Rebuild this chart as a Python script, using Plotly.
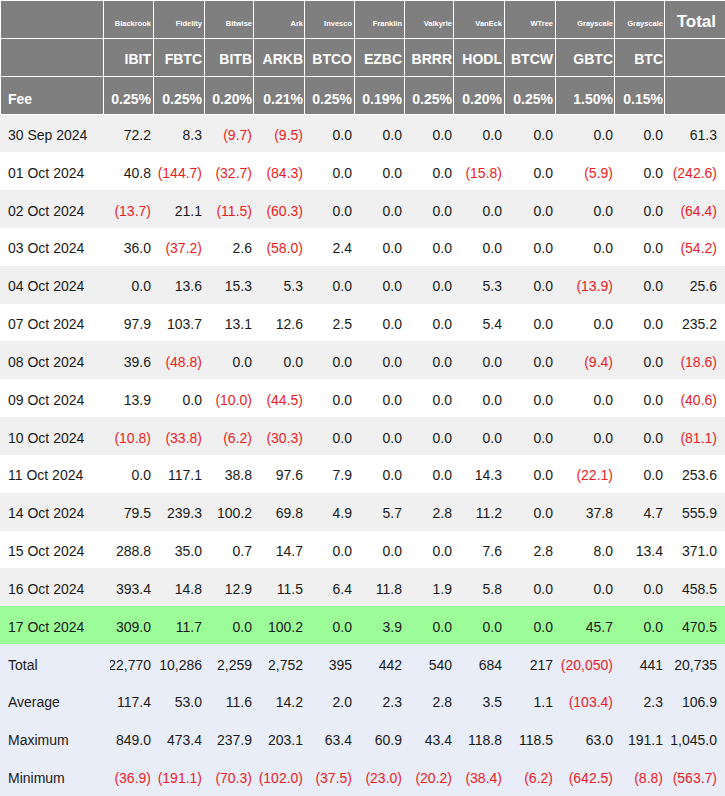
import plotly.graph_objects as go

tickers = ["IBIT", "FBTC", "BITB", "ARKB", "BTCO", "EZBC", "BRRR", "HODL", "BTCW", "GBTC", "BTC", "Total"]
issuers = ["Blackrook", "Fidelity", "Bitwise", "Ark", "Invesco", "Franklin", "Valkyrie", "VanEck", "WTree", "Grayscale", "Grayscale"]
fees = ["0.25%", "0.25%", "0.20%", "0.21%", "0.25%", "0.19%", "0.25%", "0.20%", "0.25%", "1.50%", "0.15%", ""]

dates = ["30 Sep 2024", "01 Oct 2024", "02 Oct 2024", "03 Oct 2024", "04 Oct 2024",
         "07 Oct 2024", "08 Oct 2024", "09 Oct 2024", "10 Oct 2024", "11 Oct 2024",
         "14 Oct 2024", "15 Oct 2024", "16 Oct 2024", "17 Oct 2024"]

flows = [
    [72.2, 8.3, -9.7, -9.5, 0.0, 0.0, 0.0, 0.0, 0.0, 0.0, 0.0, 61.3],
    [40.8, -144.7, -32.7, -84.3, 0.0, 0.0, 0.0, -15.8, 0.0, -5.9, 0.0, -242.6],
    [-13.7, 21.1, -11.5, -60.3, 0.0, 0.0, 0.0, 0.0, 0.0, 0.0, 0.0, -64.4],
    [36.0, -37.2, 2.6, -58.0, 2.4, 0.0, 0.0, 0.0, 0.0, 0.0, 0.0, -54.2],
    [0.0, 13.6, 15.3, 5.3, 0.0, 0.0, 0.0, 5.3, 0.0, -13.9, 0.0, 25.6],
    [97.9, 103.7, 13.1, 12.6, 2.5, 0.0, 0.0, 5.4, 0.0, 0.0, 0.0, 235.2],
    [39.6, -48.8, 0.0, 0.0, 0.0, 0.0, 0.0, 0.0, 0.0, -9.4, 0.0, -18.6],
    [13.9, 0.0, -10.0, -44.5, 0.0, 0.0, 0.0, 0.0, 0.0, 0.0, 0.0, -40.6],
    [-10.8, -33.8, -6.2, -30.3, 0.0, 0.0, 0.0, 0.0, 0.0, 0.0, 0.0, -81.1],
    [0.0, 117.1, 38.8, 97.6, 7.9, 0.0, 0.0, 14.3, 0.0, -22.1, 0.0, 253.6],
    [79.5, 239.3, 100.2, 69.8, 4.9, 5.7, 2.8, 11.2, 0.0, 37.8, 4.7, 555.9],
    [288.8, 35.0, 0.7, 14.7, 0.0, 0.0, 0.0, 7.6, 2.8, 8.0, 13.4, 371.0],
    [393.4, 14.8, 12.9, 11.5, 6.4, 11.8, 1.9, 5.8, 0.0, 0.0, 0.0, 458.5],
    [309.0, 11.7, 0.0, 100.2, 0.0, 3.9, 0.0, 0.0, 0.0, 45.7, 0.0, 470.5],
]

stat_labels = ["Total", "Average", "Maximum", "Minimum"]
stat_total = [22770, 10286, 2259, 2752, 395, 442, 540, 684, 217, -20050, 441, 20735]
stat_avg = [117.4, 53.0, 11.6, 14.2, 2.0, 2.3, 2.8, 3.5, 1.1, -103.4, 2.3, 106.9]
stat_max = [849.0, 473.4, 237.9, 203.1, 63.4, 60.9, 43.4, 118.8, 118.5, 63.0, 191.1, 1045.0]
stat_min = [-36.9, -191.1, -70.3, -102.0, -37.5, -23.0, -20.2, -38.4, -6.2, -642.5, -8.8, -563.7]

# ---- styling / layout ----
W, H = 725, 796
HEADER_BG = "#7f7f7f"
ROW_A = "#f0f0f0"
ROW_B = "#ffffff"
HIGHLIGHT = "#9cfc98"
STAT_BG = "#e9edf8"
RED = "#ec1c24"
BLACK = "#1a1a1a"
CLEAR = "rgba(0,0,0,0)"
FONT = "Liberation Sans, Arial, sans-serif"

BG_W = [103, 50, 51, 49, 51, 50, 50, 49, 51, 51, 59, 50, 61]     # cell grid
TXT_W = [111, 48, 51, 50, 51, 49, 50, 50, 50, 51, 60, 50, 54]    # text placement
HEAD_H = 38.33
BODY_H = 37.83
TXT_H = 28


def fmt(v, decimals=1):
    s = f"{abs(v):,.{decimals}f}"
    return f"({s})" if v < 0 else s


ncols = len(tickers) + 1
n_head = 3
body_labels = dates + stat_labels
n_body = len(body_labels)
aligns = ["left"] + ["right"] * (ncols - 1)

# ---------- background grid (fills + lines) ----------
row_fill = []
for r in range(len(dates)):
    if r == len(dates) - 1:
        row_fill.append(HIGHLIGHT)
    else:
        row_fill.append(ROW_A if r % 2 == 0 else ROW_B)
row_fill += [STAT_BG] * len(stat_labels)
fill_grid = [row_fill[:] for _ in range(ncols)]

traces = [go.Table(
    columnwidth=BG_W,
    domain=dict(x=[0, 1], y=[0, 1]),
    header=dict(
        values=[[""] * n_head for _ in range(ncols)],
        fill_color=HEADER_BG,
        line=dict(color="white", width=1),
        height=HEAD_H,
        font=dict(size=1),
    ),
    cells=dict(
        values=[[""] * n_body for _ in range(ncols)],
        fill_color=fill_grid,
        line=dict(color=fill_grid, width=1),
        height=BODY_H,
        font=dict(size=1),
    ),
)]


def text_row(values, colors, size, bold, top, widths=TXT_W, x0=0, x1=W, align=None):
    return go.Table(
        columnwidth=widths,
        domain=dict(x=[x0 / W, x1 / W], y=[max(0, 1 - (top + TXT_H) / H), 1 - top / H]),
        header=dict(
            values=[[v] for v in values],
            fill_color=CLEAR,
            line=dict(color=CLEAR, width=0),
            height=TXT_H,
            align=align if align is not None else aligns,
            font=dict(family=FONT, size=size, color=colors,
                      weight="bold" if bold else "normal"),
        ),
        cells=dict(values=[]),
    )


# header row 1: issuers (small) + "Total"
traces.append(text_row([""] + issuers, ["white"] * (ncols - 1), 7.5, True, 12,
                       widths=TXT_W[:-1], x0=0, x1=sum(TXT_W[:-1])))
traces.append(text_row([tickers[-1]], ["white"], 17, True, 6,
                       widths=[TXT_W[-1]], x0=sum(TXT_W[:-1]), x1=W, align=["right"]))
# header row 2: tickers
traces.append(text_row([""] + tickers[:-1] + [""], ["white"] * ncols, 14, True, 45.5))
# header row 3: fees
traces.append(text_row(["Fee"] + fees, ["white"] * ncols, 14, True, 85))

# body rows
stats = [stat_total, stat_avg, stat_max, stat_min]
body_rows = [list(r) for r in flows] + stats
for i, (label, vals) in enumerate(zip(body_labels, body_rows)):
    dec = 0 if i == len(dates) else 1
    texts = [label] + [fmt(v, dec) for v in vals]
    cols = [BLACK] + [RED if v < 0 else BLACK for v in vals]
    top = n_head * HEAD_H + i * BODY_H + 6.5
    traces.append(text_row(texts, cols, 14, False, top))

fig = go.Figure(traces)
fig.update_layout(
    width=W,
    height=H,
    margin=dict(l=0, r=0, t=0, b=0),
    paper_bgcolor="white",
)

fig.write_html("out.html", config={"displayModeBar": False},
               post_script="document.body.style.margin='0px';")
